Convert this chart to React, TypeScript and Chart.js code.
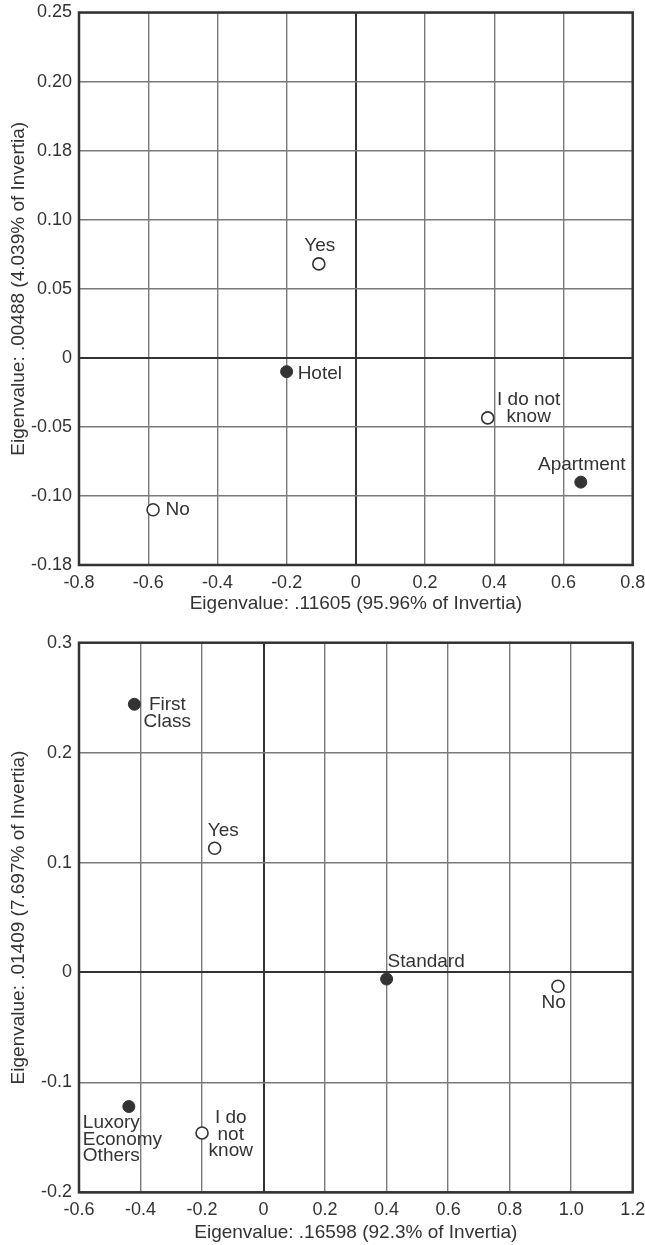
import React, { useEffect, useRef } from "react";
import { Chart, registerables } from "chart.js";

Chart.register(...registerables);

const FONT = '"Liberation Sans", Arial, Helvetica, sans-serif';
const TEXT = "#333333";
const GRID = "#7a7a7a";
const DARK = "#333333";

// ---------- Top chart data ----------
const topXTitle = "Eigenvalue: .11605 (95.96% of Invertia)";
const topYTitle = "Eigenvalue: .00488 (4.039% of Invertia)";
const topXTicks = [-0.8, -0.6, -0.4, -0.2, 0, 0.2, 0.4, 0.6, 0.8];
const topXTickLabels = ["-0.8", "-0.6", "-0.4", "-0.2", "0", "0.2", "0.4", "0.6", "0.8"];
const topYTicks = [-0.15, -0.1, -0.05, 0, 0.05, 0.1, 0.15, 0.2, 0.25];
const topYTickLabels = ["-0.18", "-0.10", "-0.05", "0", "0.05", "0.10", "0.18", "0.20", "0.25"];

const topOpenLabels = ["Yes", "No", "I do not\nknow"];
const topOpenX = [-0.107, -0.586, 0.381];
const topOpenY = [0.068, -0.11, -0.0435];

const topFilledLabels = ["Hotel", "Apartment"];
const topFilledX = [-0.2, 0.65];
const topFilledY = [-0.01, -0.09];

// ---------- Bottom chart data ----------
const botXTitle = "Eigenvalue: .16598 (92.3% of Invertia)";
const botYTitle = "Eigenvalue: .01409 (7.697% of Invertia)";
const botXTicks = [-0.6, -0.4, -0.2, 0, 0.2, 0.4, 0.6, 0.8, 1.0, 1.2];
const botXTickLabels = ["-0.6", "-0.4", "-0.2", "0", "0.2", "0.4", "0.6", "0.8", "1.0", "1.2"];
const botYTicks = [-0.2, -0.1, 0, 0.1, 0.2, 0.3];
const botYTickLabels = ["-0.2", "-0.1", "0", "0.1", "0.2", "0.3"];

const botOpenLabels = ["Yes", "No", "I do\nnot\nknow"];
const botOpenX = [-0.159, 0.957, -0.2];
const botOpenY = [0.113, -0.0125, -0.146];

const botFilledLabels = ["First\nClass", "Standard", "Luxory\nEconomy\nOthers"];
const botFilledX = [-0.42, 0.4, -0.438];
const botFilledY = [0.244, -0.006, -0.122];

// ---------- label placement (style only, relative to point pixels) ----------
type Place = { dx: number; dy: number; align: CanvasTextAlign };
const topOpenPlaces: Place[] = [
  { dx: 1, dy: -18.5, align: "center" },
  { dx: 12.5, dy: 0, align: "left" },
  { dx: 41, dy: -17.7, align: "center" },
];
const topFilledPlaces: Place[] = [
  { dx: 11, dy: 2, align: "left" },
  { dx: 1, dy: -17.7, align: "center" },
];
const botOpenPlaces: Place[] = [
  { dx: 8.6, dy: -17.7, align: "center" },
  { dx: -4.3, dy: 16.7, align: "center" },
  { dx: 28.7, dy: -15.4, align: "center" },
];
const botFilledPlaces: Place[] = [
  { dx: 33, dy: 0.7, align: "center" },
  { dx: 1, dy: -17.7, align: "left" },
  { dx: -46, dy: 16, align: "left" },
];

type Spec = {
  width: number;
  height: number;
  padTop: number;
  yAxisWidth: number;
  xAxisHeight: number;
  xTitlePadBottom: number;
  xTitle: string;
  yTitle: string;
  xTicks: number[];
  xTickLabels: string[];
  yTicks: number[];
  yTickLabels: string[];
  openX: number[];
  openY: number[];
  openLabels: string[];
  openPlaces: Place[];
  filledX: number[];
  filledY: number[];
  filledLabels: string[];
  filledPlaces: Place[];
};

const isZero = (v: number) => Math.abs(v) < 1e-9;

function buildConfig(s: Spec): any {
  const labelSets = [
    { labels: s.openLabels, places: s.openPlaces },
    { labels: s.filledLabels, places: s.filledPlaces },
  ];
  const labelPlugin = {
    id: "pointText",
    afterDatasetsDraw(chart: any) {
      const ctx = chart.ctx;
      ctx.save();
      ctx.fillStyle = TEXT;
      ctx.font = `19px ${FONT}`;
      ctx.textBaseline = "middle";
      labelSets.forEach((set, di) => {
        const meta = chart.getDatasetMeta(di);
        meta.data.forEach((el: any, i: number) => {
          const p = set.places[i];
          const lines = set.labels[i].split("\n");
          ctx.textAlign = p.align;
          lines.forEach((ln, k) => {
            ctx.fillText(ln, el.x + p.dx, el.y + p.dy + k * 16.8);
          });
        });
      });
      ctx.restore();
    },
  };
  const framePlugin = {
    id: "frame",
    beforeDatasetsDraw(chart: any) {
      const { ctx, chartArea } = chart;
      ctx.save();
      ctx.strokeStyle = DARK;
      ctx.lineWidth = 2.5;
      ctx.strokeRect(
        chartArea.left,
        chartArea.top,
        chartArea.right - chartArea.left,
        chartArea.bottom - chartArea.top
      );
      ctx.restore();
    },
  };

  const gridOpts = {
    drawTicks: false,
    color: (c: any) => (c.tick && isZero(c.tick.value) ? DARK : GRID),
    lineWidth: (c: any) => (c.tick && isZero(c.tick.value) ? 2 : 1.4),
  };

  return {
    type: "scatter",
    data: {
      datasets: [
        {
          data: s.openX.map((x, i) => ({ x, y: s.openY[i] })),
          backgroundColor: "#ffffff",
          borderColor: DARK,
          borderWidth: 1.6,
          pointRadius: 6,
          pointHoverRadius: 6,
        },
        {
          data: s.filledX.map((x, i) => ({ x, y: s.filledY[i] })),
          backgroundColor: DARK,
          borderColor: DARK,
          borderWidth: 1,
          pointRadius: 6,
          pointHoverRadius: 6,
        },
      ],
    },
    options: {
      responsive: false,
      animation: false,
      devicePixelRatio: 1,
      layout: { padding: { top: s.padTop, right: 12.3, bottom: 0, left: 0 } },
      plugins: {
        legend: { display: false },
        tooltip: { enabled: false },
      },
      scales: {
        x: {
          type: "linear",
          min: s.xTicks[0],
          max: s.xTicks[s.xTicks.length - 1],
          afterBuildTicks: (sc: any) => {
            sc.ticks = s.xTicks.map((v) => ({ value: v }));
          },
          afterFit: (sc: any) => {
            sc.height = s.xAxisHeight;
            sc.paddingLeft = 0;
            sc.paddingRight = 0;
          },
          border: { display: false },
          grid: gridOpts,
          ticks: {
            autoSkip: false,
            maxRotation: 0,
            padding: 7,
            color: TEXT,
            font: { family: FONT, size: 18 },
            callback: (_v: any, i: number) => s.xTickLabels[i],
          },
          title: {
            display: true,
            text: s.xTitle,
            color: TEXT,
            font: { family: FONT, size: 19 },
            padding: { top: 0, bottom: s.xTitlePadBottom },
          },
        },
        y: {
          type: "linear",
          min: s.yTicks[0],
          max: s.yTicks[s.yTicks.length - 1],
          afterBuildTicks: (sc: any) => {
            sc.ticks = s.yTicks.map((v) => ({ value: v }));
          },
          afterFit: (sc: any) => {
            sc.width = s.yAxisWidth;
            sc.paddingTop = 0;
            sc.paddingBottom = 0;
          },
          border: { display: false },
          grid: gridOpts,
          ticks: {
            autoSkip: false,
            padding: 7,
            color: TEXT,
            font: { family: FONT, size: 18 },
            callback: (_v: any, i: number) => s.yTickLabels[i],
          },
          title: {
            display: true,
            text: s.yTitle,
            color: TEXT,
            font: { family: FONT, size: 19 },
            padding: { top: 7, bottom: 0 },
          },
        },
      },
    },
    plugins: [framePlugin, labelPlugin],
  };
}

function Plot({ spec }: { spec: Spec }) {
  const ref = useRef<HTMLCanvasElement | null>(null);
  useEffect(() => {
    if (!ref.current) return;
    const chart = new Chart(ref.current, buildConfig(spec));
    return () => chart.destroy();
  }, [spec]);
  return (
    <canvas
      ref={ref}
      width={spec.width}
      height={spec.height}
      style={{ display: "block", width: spec.width, height: spec.height }}
    />
  );
}

const topSpec: Spec = {
  width: 645,
  height: 615,
  padTop: 12.5,
  yAxisWidth: 79,
  xAxisHeight: 50,
  xTitlePadBottom: 0,
  xTitle: topXTitle,
  yTitle: topYTitle,
  xTicks: topXTicks,
  xTickLabels: topXTickLabels,
  yTicks: topYTicks,
  yTickLabels: topYTickLabels,
  openX: topOpenX,
  openY: topOpenY,
  openLabels: topOpenLabels,
  openPlaces: topOpenPlaces,
  filledX: topFilledX,
  filledY: topFilledY,
  filledLabels: topFilledLabels,
  filledPlaces: topFilledPlaces,
};

const botSpec: Spec = {
  width: 645,
  height: 630,
  padTop: 27.7,
  yAxisWidth: 79,
  xAxisHeight: 52.7,
  xTitlePadBottom: 1,
  xTitle: botXTitle,
  yTitle: botYTitle,
  xTicks: botXTicks,
  xTickLabels: botXTickLabels,
  yTicks: botYTicks,
  yTickLabels: botYTickLabels,
  openX: botOpenX,
  openY: botOpenY,
  openLabels: botOpenLabels,
  openPlaces: botOpenPlaces,
  filledX: botFilledX,
  filledY: botFilledY,
  filledLabels: botFilledLabels,
  filledPlaces: botFilledPlaces,
};

export default function App() {
  return (
    <div
      style={{
        position: "absolute",
        left: 0,
        top: 0,
        width: 645,
        height: 1245,
        background: "#ffffff",
      }}
    >
      <Plot spec={topSpec} />
      <Plot spec={botSpec} />
    </div>
  );
}
